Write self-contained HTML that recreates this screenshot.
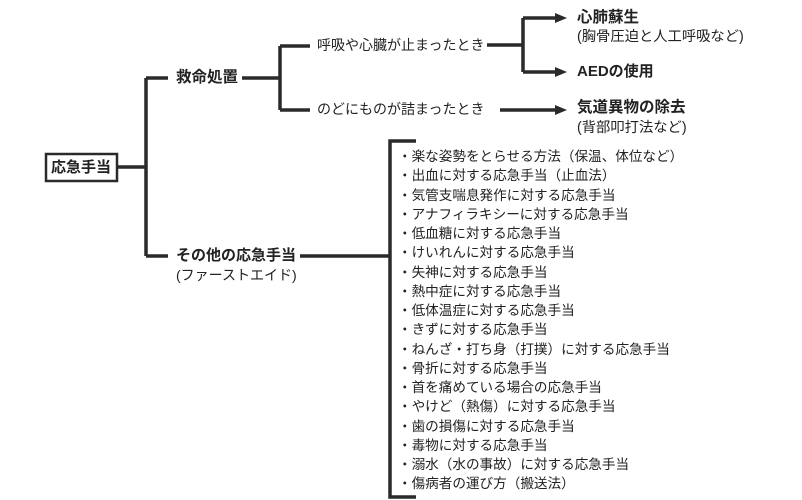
<!DOCTYPE html>
<html><head><meta charset="utf-8"><style>
body{margin:0;background:#fff;width:802px;height:500px;overflow:hidden;position:relative;font-family:"Liberation Sans","Noto Sans CJK JP",sans-serif;color:#222}
.t{position:absolute;white-space:nowrap;line-height:1}
.b{font-weight:bold}
</style></head><body>
<svg width="802" height="500" style="position:absolute;left:0;top:0">
<g stroke="#2a2a2a" stroke-width="3.5" fill="none">
<path d="M117 167H146M146 78V256M146 78H168M146 256H168"/>
<path d="M242 78H280M280 46V110M280 46H310M280 110H310"/>
<path d="M487 45H523M523 18V72M523 18H558M523 72H558"/>
<path d="M500 110H558"/>
<path d="M300 256H390M416 141H390V497H416"/>
</g>
<g fill="#2a2a2a">
<path d="M567 18l-12 -5v10z"/><path d="M567 72l-12 -5v10z"/><path d="M567 110l-12 -5v10z"/>
</g>
<rect x="46" y="154" width="71" height="27" fill="#fff" stroke="#2a2a2a" stroke-width="2.5"/>
</svg>
<div class="t b" style="left:51px;top:160px;font-size:15px">応急手当</div>
<div class="t b" style="left:176px;top:70px;font-size:15.5px">救命処置</div>
<div class="t b" style="left:176px;top:248px;font-size:15px">その他の応急手当</div>
<div class="t" style="left:176px;top:268px;font-size:14px">(ファーストエイド)</div>
<div class="t" style="left:317px;top:38px;font-size:14px">呼吸や心臓が止まったとき</div>
<div class="t" style="left:317px;top:102px;font-size:14px">のどにものが詰まったとき</div>
<div class="t b" style="left:577px;top:10px;font-size:15.5px">心肺蘇生</div>
<div class="t" style="left:577px;top:30px;font-size:14.3px">(胸骨圧迫と人工呼吸など)</div>
<div class="t b" style="left:577px;top:64px;font-size:15px">AEDの使用</div>
<div class="t b" style="left:577px;top:100px;font-size:15.5px">気道異物の除去</div>
<div class="t" style="left:577px;top:121px;font-size:14.3px">(背部叩打法など)</div>
<div class="t" style="left:398px;top:147px;font-size:13.6px;line-height:19.25px">
・楽な姿勢をとらせる方法（保温、体位など）<br>
・出血に対する応急手当（止血法）<br>
・気管支喘息発作に対する応急手当<br>
・アナフィラキシーに対する応急手当<br>
・低血糖に対する応急手当<br>
・けいれんに対する応急手当<br>
・失神に対する応急手当<br>
・熱中症に対する応急手当<br>
・低体温症に対する応急手当<br>
・きずに対する応急手当<br>
・ねんざ・打ち身（打撲）に対する応急手当<br>
・骨折に対する応急手当<br>
・首を痛めている場合の応急手当<br>
・やけど（熱傷）に対する応急手当<br>
・歯の損傷に対する応急手当<br>
・毒物に対する応急手当<br>
・溺水（水の事故）に対する応急手当<br>
・傷病者の運び方（搬送法）
</div>
</body></html>
